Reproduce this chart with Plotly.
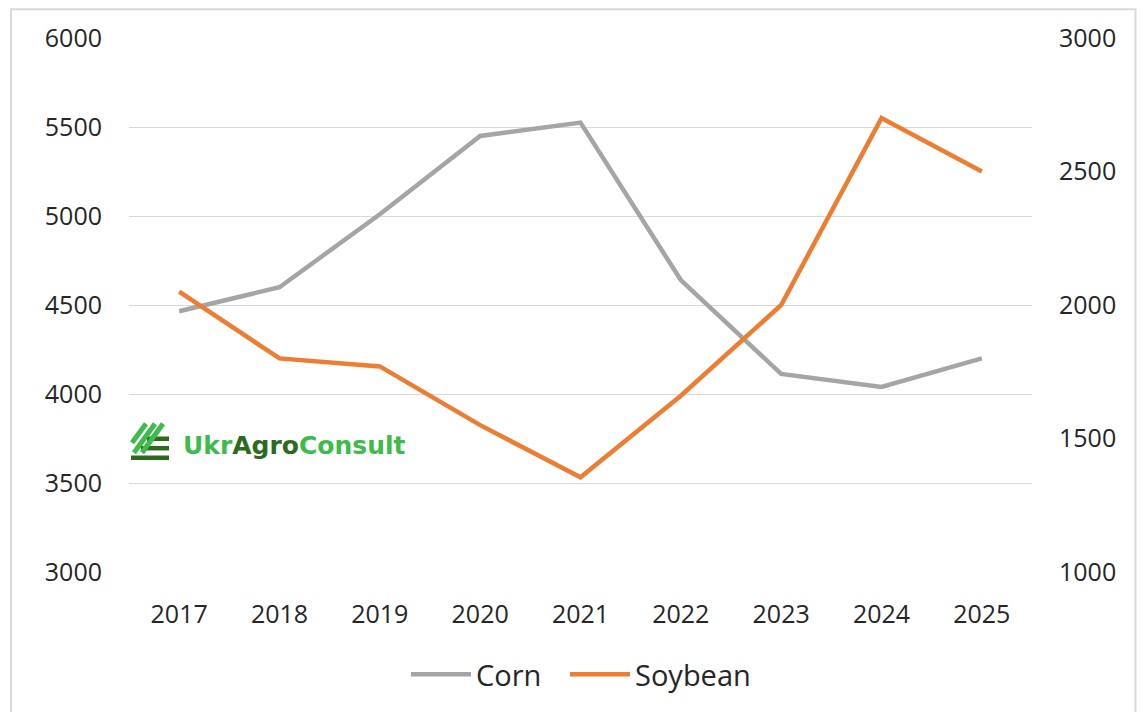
import plotly.graph_objects as go

years = ["2017", "2018", "2019", "2020", "2021", "2022", "2023", "2024", "2025"]
corn = [4465, 4600, 5010, 5450, 5525, 4640, 4113, 4040, 4200]
soybean = [2050, 1800, 1770, 1550, 1355, 1660, 2000, 2700, 2500]
left_ticks = [3000, 3500, 4000, 4500, 5000, 5500, 6000]
right_ticks = [1000, 1500, 2000, 2500, 3000]

# page has an 8px body margin; figure sized so that it fits the window
OFF = 8
W, H = 1145 - 2 * OFF, 720 - 2 * OFF
ML, MR, MT, MB = 129 - OFF, 105, 38 - OFF, 137
PW, PH = W - ML - MR, H - MT - MB


def px(x):
    # page pixel x -> paper coordinate
    return (x - OFF - ML) / PW


def py(y):
    # page pixel y -> paper coordinate
    return (H - MB - (y - OFF)) / PH


FONT = "Open Sans"
fig = go.Figure()
fig.add_trace(go.Scatter(x=years, y=corn, name="Corn", mode="lines",
                         line=dict(color="#a5a5a5", width=4.5), yaxis="y",
                         legend="legend"))
fig.add_trace(go.Scatter(x=years, y=soybean, name="Soybean", mode="lines",
                         line=dict(color="#ed7d31", width=4.5), yaxis="y2",
                         legend="legend2"))

shapes = []
# outer chart border
shapes.append(dict(type="rect", xref="paper", yref="paper",
                   x0=px(11), x1=px(1135.5), y0=py(740), y1=py(9),
                   line=dict(color="#d9d9d9", width=2), fillcolor="rgba(0,0,0,0)",
                   layer="below"))
# logo icon: dark horizontal bars
for (x0, x1, y) in [(147, 169, 441), (141, 169, 450.5), (131, 169, 460)]:
    shapes.append(dict(type="line", xref="paper", yref="paper",
                       x0=px(x0), x1=px(x1), y0=py(y), y1=py(y),
                       line=dict(color="#2d6a1e", width=4.5)))
# logo icon: light diagonal stripes
for (x0, y0, x1, y1) in [(132, 445, 146, 426), (134, 455, 155, 426), (142, 455, 163, 426)]:
    shapes.append(dict(type="line", xref="paper", yref="paper",
                       x0=px(x0), x1=px(x1), y0=py(y0), y1=py(y1),
                       line=dict(color="#3dbb4b", width=5)))

legend_style = dict(orientation="h", xanchor="left", yanchor="middle", y=py(678),
                    font=dict(size=29, color="#262626"), bgcolor="rgba(0,0,0,0)",
                    itemwidth=60)

fig.update_layout(
    width=W, height=H,
    margin=dict(l=ML, r=MR, t=MT, b=MB),
    paper_bgcolor="white", plot_bgcolor="white",
    font=dict(family=FONT, size=25, color="#262626"),
    xaxis=dict(type="category", range=[-0.5, 8.5], showgrid=False, zeroline=False,
               showline=False, ticks="", ticklabelstandoff=25,
               tickfont=dict(size=25, color="#262626")),
    yaxis=dict(range=[3000, 6000], tickvals=left_ticks, showgrid=True,
               gridcolor="#d9d9d9", gridwidth=1.3, zeroline=False, showline=False,
               ticks="", ticklabelstandoff=26, tickfont=dict(size=25, color="#262626")),
    yaxis2=dict(range=[1000, 3000], tickvals=right_ticks, overlaying="y", side="right",
                showgrid=False, zeroline=False, showline=False, ticks="",
                ticklabelstandoff=26, tickfont=dict(size=25, color="#262626")),
    legend=dict(x=px(406), **legend_style),
    legend2=dict(x=px(565), **legend_style),
    shapes=shapes,
    annotations=[dict(
        xref="paper", yref="paper", x=px(181), y=py(448), xanchor="left", yanchor="middle",
        showarrow=False,
        text=("<b><span style='color:#3dbb4b'>Ukr</span>"
              "<span style='color:#2d6a1e'>Agro</span>"
              "<span style='color:#3dbb4b'>Consult</span></b>"),
        font=dict(family="DejaVu Sans", size=25),
    )],
    showlegend=True,
)

fig.write_html("out.html")
